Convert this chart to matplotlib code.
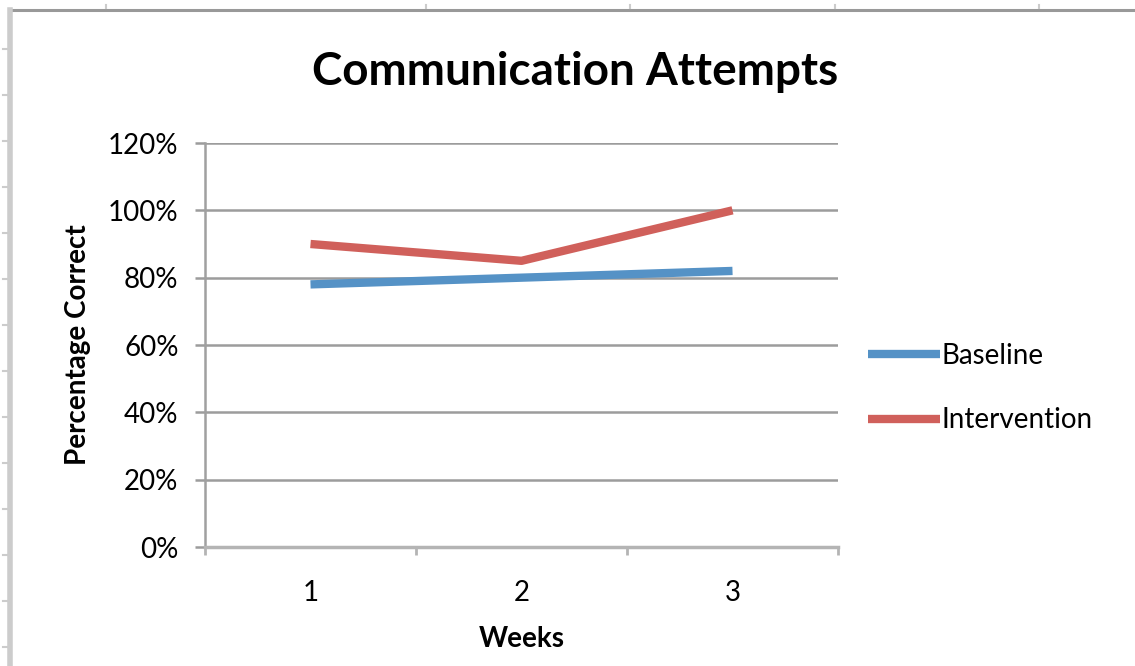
import numpy as np
import matplotlib
matplotlib.use('Agg')
import matplotlib.pyplot as plt
from matplotlib.lines import Line2D
from matplotlib.ticker import PercentFormatter

# data
weeks = ['1', '2', '3']
baseline = [0.78, 0.80, 0.82]
intervention = [0.90, 0.85, 1.00]
y_ticks = [0.0, 0.2, 0.4, 0.6, 0.8, 1.0, 1.2]

W, H = 1135, 666
BLUE = '#5592c6'
RED = '#d0605b'
GRID = '#9c9c9c'
FS = 20

plt.rcParams['font.family'] = ['Lato', 'DejaVu Sans']


def fx(x):
    return x / W


def fy(y):
    return 1 - y / H


fig = plt.figure(figsize=(W / 100, H / 100), dpi=100)
ax = fig.add_axes([fx(205), fy(547), fx(838) - fx(205), fy(143) - fy(547)])

x = np.arange(len(weeks))
ax.plot(x, baseline, color=BLUE, lw=6, solid_capstyle='butt', label='Baseline')
ax.plot(x, intervention, color=RED, lw=6, solid_capstyle='butt', label='Intervention')

ax.set_xlim(-0.5, len(weeks) - 0.5)
ax.set_ylim(0, 1.2)
ax.set_yticks(y_ticks)
ax.yaxis.set_major_formatter(PercentFormatter(1.0, decimals=0))
ax.set_xticks(x)
ax.set_xticklabels(weeks)
ax.set_xticks(np.arange(len(weeks) + 1) - 0.5, minor=True)

ax.grid(axis='y', color=GRID, lw=1.8)
ax.set_axisbelow(True)
for s in ['top', 'right']:
    ax.spines[s].set_visible(False)
ax.spines['left'].set_color('#a0a0a0')
ax.spines['left'].set_linewidth(1.8)
ax.spines['bottom'].set_color('#b4b4b4')
ax.spines['bottom'].set_linewidth(2.5)

ax.tick_params(axis='y', length=7, width=1.8, color=GRID, labelsize=FS, pad=12)
ax.tick_params(axis='x', which='major', length=0, labelsize=FS, pad=24)
ax.tick_params(axis='x', which='minor', length=6, width=2, color='#b4b4b4')

ax.set_xlabel('Weeks', fontsize=FS, fontweight='bold', labelpad=14)
ax.set_ylabel('Percentage Correct', fontsize=FS, fontweight='bold', labelpad=12)

fig.text(fx(575), fy(72), 'Communication Attempts', fontsize=33, fontweight='bold',
         ha='center', va='center')

fig.legend(loc='center left', bbox_to_anchor=(fx(843), fy(388)), frameon=False,
           fontsize=FS, handlelength=2.6, handletextpad=0.05, labelspacing=1.4)

# sheet border and cell marks round the chart
fig.add_artist(Line2D([fx(10), 1], [fy(9.5), fy(9.5)], color='#999999', lw=2.2))
fig.add_artist(Line2D([fx(10), fx(10)], [fy(10), 0], color='#cccccc', lw=4))
for yy in range(49, H, 46):
    fig.add_artist(Line2D([fx(3), fx(7)], [fy(yy), fy(yy)], color='#cccccc', lw=1.5))
for xx in [106, 426, 630, 835, 1039]:
    fig.add_artist(Line2D([fx(xx), fx(xx)], [fy(5), fy(8)], color='#cccccc', lw=1.5))

fig.savefig('out.png', dpi=100)
